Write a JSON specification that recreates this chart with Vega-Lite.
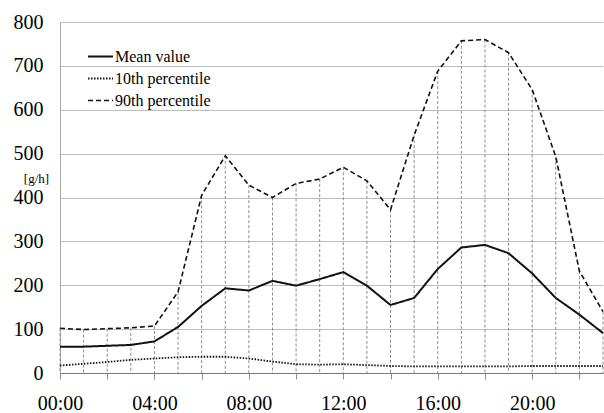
{
  "$schema": "https://vega.github.io/schema/vega-lite/v6.json",
  "width": 543,
  "height": 351,
  "autosize": {"type": "none"},
  "padding": {"left": 60, "top": 22, "right": 1, "bottom": 40},
  "background": "white",
  "config": {
    "font": "Liberation Serif",
    "view": {"stroke": null}
  },
  "data": {
    "values": [
      {"hour": 0, "Mean value": 60, "10th percentile": 17, "90th percentile": 102},
      {"hour": 1, "Mean value": 60, "10th percentile": 21, "90th percentile": 99},
      {"hour": 2, "Mean value": 62, "10th percentile": 25, "90th percentile": 101},
      {"hour": 3, "Mean value": 64, "10th percentile": 30, "90th percentile": 103},
      {"hour": 4, "Mean value": 72, "10th percentile": 33, "90th percentile": 107},
      {"hour": 5, "Mean value": 105, "10th percentile": 36, "90th percentile": 185},
      {"hour": 6, "Mean value": 153, "10th percentile": 37, "90th percentile": 405},
      {"hour": 7, "Mean value": 193, "10th percentile": 37, "90th percentile": 495},
      {"hour": 8, "Mean value": 188, "10th percentile": 33, "90th percentile": 428},
      {"hour": 9, "Mean value": 210, "10th percentile": 26, "90th percentile": 400},
      {"hour": 10, "Mean value": 199, "10th percentile": 20, "90th percentile": 432},
      {"hour": 11, "Mean value": 214, "10th percentile": 19, "90th percentile": 442},
      {"hour": 12, "Mean value": 230, "10th percentile": 20, "90th percentile": 469},
      {"hour": 13, "Mean value": 199, "10th percentile": 18, "90th percentile": 438},
      {"hour": 14, "Mean value": 155, "10th percentile": 16, "90th percentile": 372},
      {"hour": 15, "Mean value": 171, "10th percentile": 15, "90th percentile": 542},
      {"hour": 16, "Mean value": 237, "10th percentile": 15, "90th percentile": 688},
      {"hour": 17, "Mean value": 286, "10th percentile": 15, "90th percentile": 757},
      {"hour": 18, "Mean value": 292, "10th percentile": 15, "90th percentile": 760},
      {"hour": 19, "Mean value": 273, "10th percentile": 15, "90th percentile": 730},
      {"hour": 20, "Mean value": 227, "10th percentile": 16, "90th percentile": 646},
      {"hour": 21, "Mean value": 171, "10th percentile": 16, "90th percentile": 493},
      {"hour": 22, "Mean value": 133, "10th percentile": 16, "90th percentile": 232},
      {"hour": 23, "Mean value": 91, "10th percentile": 16, "90th percentile": 140}
    ]
  },
  "layer": [
    {
      "mark": {"type": "rule", "stroke": "#8c8c8c", "strokeDash": [3, 2], "strokeWidth": 1},
      "encoding": {
        "x": {"field": "hour", "type": "quantitative"},
        "y": {"field": "90th percentile", "type": "quantitative"},
        "y2": {"datum": 0}
      }
    },
    {
      "transform": [{"fold": ["Mean value", "10th percentile", "90th percentile"], "as": ["series", "val"]}],
      "mark": {"type": "line", "stroke": "#111111"},
      "encoding": {
        "x": {
          "field": "hour", "type": "quantitative",
          "scale": {"domain": [0, 23], "nice": false, "zero": false},
          "axis": {
            "title": null,
            "values": [0,1,2,3,4,5,6,7,8,9,10,11,12,13,14,15,16,17,18,19,20,21,22,23],
            "labelExpr": "datum.value % 4 == 0 ? (datum.value < 10 ? '0' : '') + datum.value + ':00' : ''",
            "labelFont": "Liberation Serif",
            "labelFontSize": 20,
            "labelColor": "#000000",
            "labelPadding": 14,
            "labelFlush": false,
            "labelOverlap": false,
            "grid": false,
            "domainColor": "#777777",
            "domainWidth": 1,
            "tickColor": "#8c8c8c",
            "tickSize": 6
          }
        },
        "y": {
          "field": "val", "type": "quantitative",
          "scale": {"domain": [0, 800], "nice": false},
          "axis": {
            "values": [0,100,200,300,400,500,600,700,800],
            "title": "[g/h]",
            "titleFont": "Liberation Serif",
            "titleAngle": 0,
            "titleX": -24,
            "titleY": 156,
            "titleAlign": "center",
            "titleBaseline": "middle",
            "titleFontSize": 13,
            "titleFontWeight": "normal",
            "titleColor": "#000000",
            "labelFont": "Liberation Serif",
            "labelFontSize": 20,
            "labelColor": "#000000",
            "labelPadding": 17,
            "ticks": false,
            "grid": true,
            "gridColor": "#bdbdbd",
            "gridWidth": 1,
            "domainColor": "#aaaaaa"
          }
        },
        "strokeDash": {
          "field": "series", "type": "nominal",
          "scale": {"domain": ["Mean value", "10th percentile", "90th percentile"], "range": [[1, 0], [1.5, 1.5], [5, 3]]},
          "legend": {
            "title": null,
            "orient": "none",
            "legendX": 27,
            "legendY": 21,
            "symbolType": "stroke",
            "symbolSize": 625,
            "symbolStrokeWidth": 2.2,
            "symbolStrokeColor": "#111111",
            "labelFont": "Liberation Serif",
            "labelFontSize": 16,
            "labelColor": "#000000",
            "labelOffset": 1,
            "rowPadding": 0,
            "padding": 0
          }
        },
        "strokeWidth": {
          "field": "series", "type": "nominal",
          "scale": {"domain": ["Mean value", "10th percentile", "90th percentile"], "range": [2, 1.6, 2.8]},
          "legend": null
        }
      }
    }
  ]
}
